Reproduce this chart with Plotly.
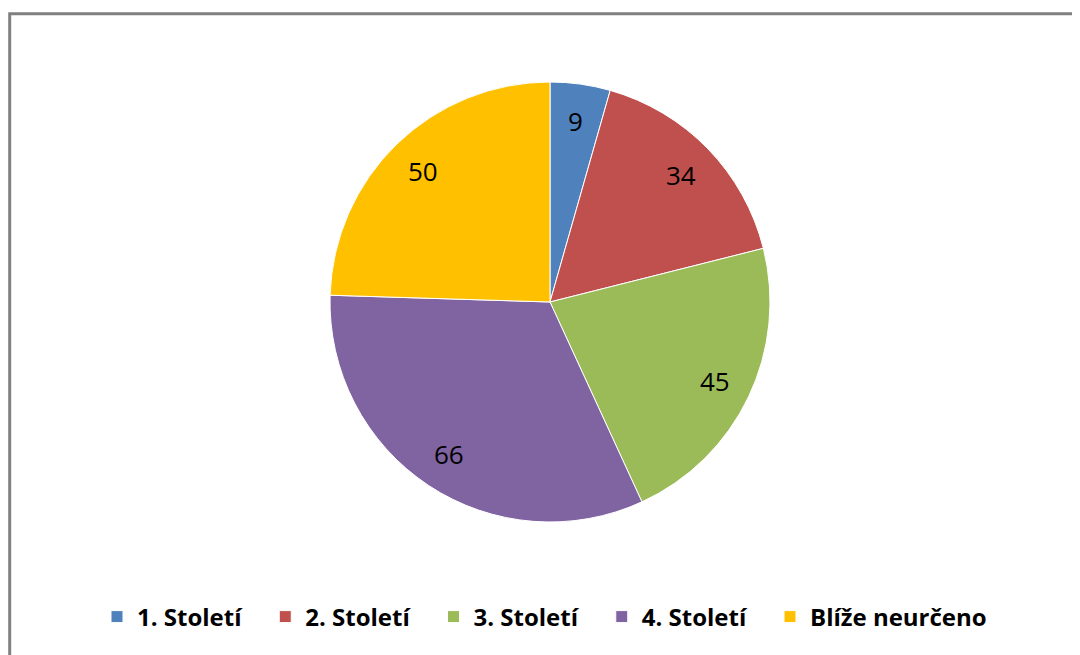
import math
import plotly.graph_objects as go

labels = ["1. Století", "2. Století", "3. Století", "4. Století", "Blíže neurčeno"]
values = [9, 34, 45, 66, 50]
colors = ["#4F81BD", "#C0504D", "#9BBB59", "#8064A2", "#FFC000"]

W, H = 1080, 655
OFF = 8  # page body margin offset
cx, cy, r = 550 - OFF, 302 - OFF, 220  # pie center / radius in px
label_frac = 0.83

pad = "\u00a0" * 3
legend_labels = [l + pad for l in labels[:-1]] + [labels[-1]]

fig = go.Figure(go.Pie(
    labels=legend_labels, values=values, sort=False, direction="clockwise", rotation=0,
    marker=dict(colors=colors, line=dict(color="white", width=1)),
    textinfo="none", hoverinfo="label+value",
    domain=dict(x=[(cx - r) / W, (cx + r) / W], y=[1 - (cy + r) / H, 1 - (cy - r) / H]),
))

total = sum(values)
cum = 0
ann = []
for v in values:
    mid = (cum + v / 2) / total * 2 * math.pi
    cum += v
    px = cx + label_frac * r * math.sin(mid)
    py = cy - label_frac * r * math.cos(mid)
    ann.append(dict(x=px / W, y=1 - py / H, xref="paper", yref="paper", text=str(v),
                    xanchor="center", yanchor="middle",
                    showarrow=False, font=dict(size=26, color="black", family="Open Sans")))

fig.update_layout(
    width=W, height=H, margin=dict(l=0, r=0, t=0, b=0),
    paper_bgcolor="white", plot_bgcolor="white",
    annotations=ann,
    showlegend=True,
    legend=dict(orientation="h", x=89 / W, xanchor="left", y=1 - 609 / H, yanchor="middle",
                font=dict(size=24, family="Open Sans", color="black", weight="bold"),
                itemclick=False),
    shapes=[dict(type="rect", xref="paper", yref="paper", x0=1.7 / W, x1=1.05, y0=-0.05, y1=1 - 5.7 / H,
                 line=dict(color="#808080", width=3), fillcolor="rgba(0,0,0,0)")],
)

fig.write_html("out.html")
